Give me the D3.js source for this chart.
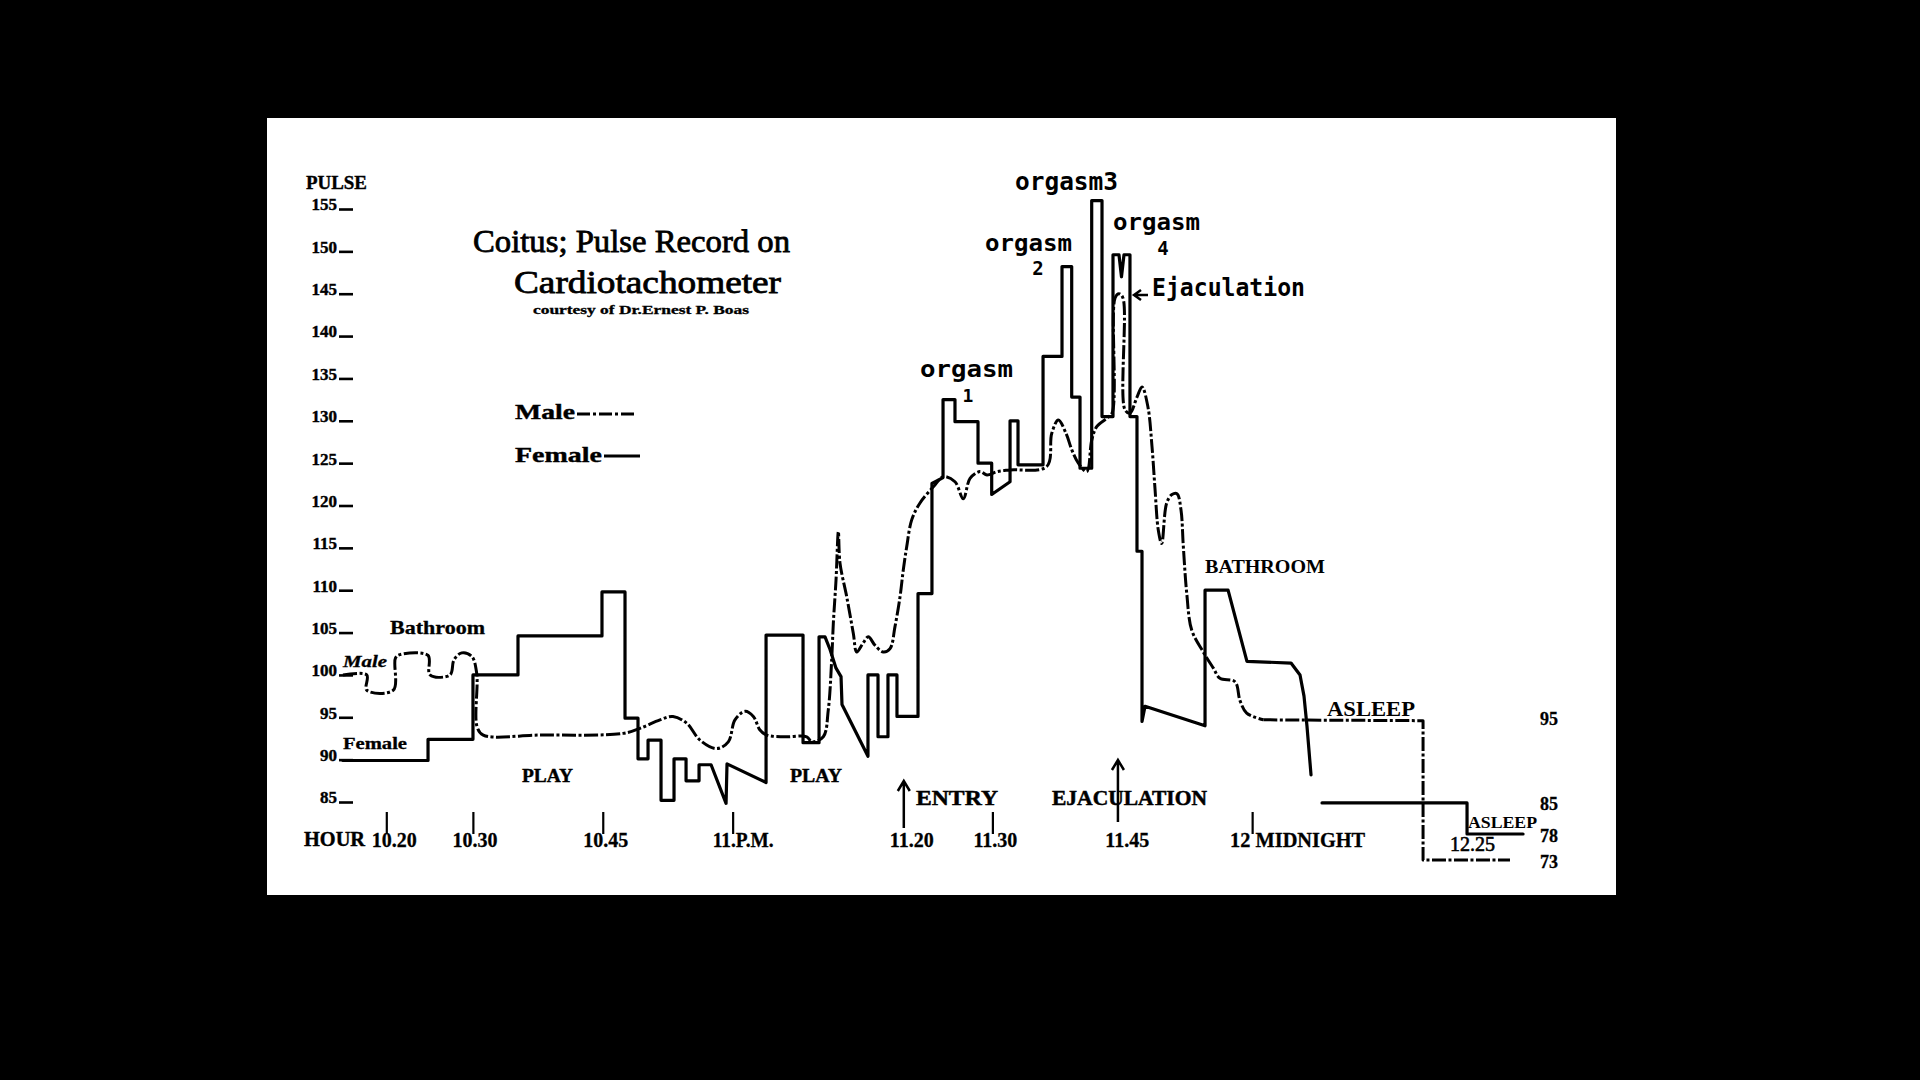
<!DOCTYPE html>
<html><head><meta charset="utf-8">
<script src="https://cdn.jsdelivr.net/npm/d3@7"></script>
<style>
html,body{margin:0;padding:0;background:#000;}
svg{display:block;}
</style></head>
<body>
<svg id="chart" width="1920" height="1080"></svg>
<script>
// ---------- DATA (minutes after 10 P.M., pulse per minute) ----------
const pulseTicks = [85,90,95,100,105,110,115,120,125,130,135,140,145,150,155];
const hourTicks = [20,30,45,60,90,120];
const hourLabelTimes = [20,30,45,60,80,90,105,120,145];
const hourLabels = ["10.20","10.30","10.45","11.P.M.","11.20","11.30","11.45","12 MIDNIGHT","12.25"];
const rightLabels = [95,85,78,73];

const maleReadings = [
 [15.0,100.0],[17.74,100.0],[17.74,98.2],[20.81,98.2],[21.06,102.0],[21.58,102.4],[24.82,102.3],
 [25.05,100.0],[27.36,100.0],[27.82,101.8],[28.71,102.6],[29.86,102.2],[30.44,100.2],[30.48,93.9],
 [31.2,92.9],[37.75,92.9],[47.34,93.1],[49.3,93.7],[51.61,94.7],[53.11,95.1],[54.7,94.3],[56.23,92.3],
 [58.16,91.3],[59.5,92.1],[60.27,94.7],[61.43,95.7],[62.39,95.1],[63.16,93.5],[63.94,92.9],[66.05,92.7],
 [68.56,92.7],[69.14,92.1],[70.47,92.7],[71.05,95.9],[71.44,101.8],[71.63,106.1],[71.94,111.2],
 [72.21,116.9],[72.4,113.2],[73.18,109.2],[73.94,104.9],[74.33,102.7],[75.09,103.8],[75.67,104.5],
 [76.44,103.5],[77.4,102.7],[78.18,103.1],[78.75,105.7],[79.33,109.2],[79.71,112.4],[80.1,115.1],
 [80.68,118.3],[81.64,120.3],[83.18,122.2],[84.33,123.4],[85.68,122.8],[86.64,120.8],[87.42,123.2],
 [88.57,124.0],[89.38,123.6],[90.53,124.0],[92.04,124.2],[96.28,124.6],[96.85,128.5],[97.62,130.1],
 [98.51,128.5],[99.2,126.5],[99.93,125.0],[100.9,124.0],[101.47,127.7],[102.05,129.3],[103.21,130.3],
 [103.82,130.9],[104.17,144.5],[104.62,145.0],[105.08,144.5],[105.31,131.3],[105.89,130.9],[106.7,132.8],
 [107.28,134.0],[107.97,131.6],[108.43,127.0],[108.78,122.0],[109.16,117.1],[109.55,115.5],[110.13,120.3],
 [110.74,121.3],[111.32,121.4],[111.78,119.5],[112.05,115.2],[112.45,109.6],[113.02,105.3],[114.36,102.7],
 [115.52,100.8],[116.29,99.6],[118.02,99.2],[118.59,97.0],[119.37,95.5],[121.29,94.7],[139.74,94.6],
 [139.74,73],[149.78,73]
];

const femaleReadings = [
 [15.0,89.9],[24.82,89.9],[24.82,92.4],[30.01,92.4],[30.01,100.0],[35.21,100.0],[35.21,104.6],
 [44.91,104.6],[44.91,109.8],[47.57,109.8],[47.57,94.9],[49.07,94.9],[49.07,90.1],[50.23,90.1],
 [50.23,92.3],[51.73,92.3],[51.73,85.2],[53.23,85.2],[53.23,90.1],[54.62,90.1],[54.62,87.5],
 [56.12,87.5],[56.12,89.4],[57.51,89.4],[59.24,84.7],[59.35,89.5],[63.86,87.3],[63.86,104.7],
 [68.13,104.7],[68.13,92.0],[69.98,92.0],[69.98,104.5],[70.67,104.5],[71.25,103.0],[71.94,100.8],
 [72.52,99.8],[72.63,96.5],[75.63,90.4],[75.63,100.0],[76.79,100.0],[76.79,92.7],[77.94,92.7],
 [77.94,100.0],[78.98,100.0],[78.98,95.1],[81.41,95.1],[81.41,109.6],[83.02,109.6],[83.02,122.6],
 [84.3,123.3],[84.3,132.5],[85.68,132.5],[85.68,129.9],[88.34,129.9],[88.34,125.0],[89.92,125.0],
 [89.92,121.3],[92.04,122.8],[92.04,130.0],[92.96,130.0],[92.96,124.8],[95.85,124.8],[95.85,137.6],
 [98.04,137.6],[98.04,148.2],[99.16,148.2],[99.16,132.8],[100.12,132.8],[100.12,124.4],[101.47,124.4],
 [101.47,156.0],[102.66,156.0],[102.66,130.5],[103.93,130.5],[103.93,149.6],[104.62,149.6],[104.91,147.0],
 [105.2,149.6],[105.89,149.6],[105.89,130.5],[106.7,130.5],[106.7,114.6],[107.28,114.6],[107.28,94.5],
 [107.63,96.3],[114.56,94.0],[114.56,110.0],[117.22,110.0],[119.4,101.6],[124.49,101.4],[125.53,100.0],
 [125.99,97.5],[126.33,94.0],[126.8,88.2],[127.4,null],[128.07,84.8],[144.82,84.8],[144.82,78],[151.29,78]
];

// ---------- DRAWING ----------
const svg = d3.select("#chart");
svg.append("rect").attr("width",1920).attr("height",1080).attr("fill","#000");
svg.append("rect").attr("x",267).attr("y",118).attr("width",1349).attr("height",777).attr("fill","#fff");

const x = d3.scaleLinear().domain([20,145]).range([386.3,1468.6]);
const y = d3.scaleLinear().domain([73,78,85,155]).range([860,834,802,209]);

const serif = "'Liberation Serif','DejaVu Serif',serif";
const mono = "'DejaVu Sans Mono','Liberation Mono',monospace";

function txt(px, py, s, o) {
  o = o || {};
  const t = svg.append("text").attr("x",px).attr("y",py).text(s)
    .attr("font-family", o.family || serif)
    .attr("font-size", o.size || 18)
    .attr("font-weight", o.weight || "bold")
    .attr("font-style", o.style || "normal")
    .attr("text-anchor", o.anchor || "start")
    .attr("fill","#000");
  if (o.len) t.attr("textLength", o.len).attr("lengthAdjust","spacingAndGlyphs");
  if (o.stroke) t.attr("stroke","#000").attr("stroke-width",o.stroke);
  return t;
}

// Y axis
const gy = svg.append("g").attr("transform","translate(353,0)")
  .call(d3.axisLeft(y).tickValues(pulseTicks).tickSize(14).tickPadding(2).tickFormat(d => String(d)));
gy.select(".domain").remove();
gy.selectAll(".tick line").attr("stroke","#000").attr("stroke-width",2.6);
gy.selectAll(".tick text").attr("dy","0.05em").attr("font-family",serif)
  .attr("font-weight","bold").attr("font-size",17).attr("fill","#000")
  .attr("stroke","#000").attr("stroke-width",0.4);
txt(306,189,"PULSE",{size:19,len:61,stroke:0.4});

// X axis ticks
const gx = svg.append("g").attr("transform","translate(0,812)")
  .call(d3.axisBottom(x).tickValues(hourTicks).tickSize(22).tickFormat(""));
gx.select(".domain").remove();
gx.selectAll(".tick line").attr("stroke","#000").attr("stroke-width",2.2);

txt(304,846,"HOUR",{size:20,len:61,stroke:0.4});
const labelDx = {"10.20":8,"10.30":2,"10.45":3,"11.20":6,"11.30":3,"11.45":5,"12.25":4};
hourLabels.forEach((lab,i) => {
  const t = hourLabelTimes[i];
  if (lab === "11.P.M.") txt(x(t)-20,847,lab,{size:20,len:61,stroke:0.3});
  else if (lab === "12 MIDNIGHT") txt(x(t)-22,847,lab,{size:20,len:135,stroke:0.3});
  else txt(x(t)+(labelDx[lab]||0),lab==="12.25"?851:847,lab,{size:20,anchor:"middle",weight:lab==="12.25"?"normal":"bold",stroke:lab==="12.25"?0.6:0.3});
});

// right side labels
rightLabels.forEach(v => txt(1549, y(v)+8, String(v), {size:18,anchor:"middle",stroke:0.3}));

// Series
const maleSmooth = d3.line().x(d => x(d[0])).y(d => y(d[1])).curve(d3.curveCatmullRom.alpha(0.5));
const maleStraight = d3.line().x(d => x(d[0])).y(d => y(d[1]));
const femaleLine = d3.line().defined(d => d[1] != null).x(d => x(d[0])).y(d => y(d[1]));
const dash = "14,2.5,3,2.5";

svg.append("path").datum(femaleReadings).attr("d",femaleLine)
  .attr("fill","none").attr("stroke","#000").attr("stroke-width",3.2)
  .attr("stroke-linejoin","round").attr("stroke-linecap","round");
svg.append("path").datum(maleReadings.filter(d => d[0] <= 121.29)).attr("d",maleSmooth)
  .attr("fill","none").attr("stroke","#000").attr("stroke-width",3)
  .attr("stroke-dasharray",dash).attr("stroke-linejoin","round");
svg.append("path").datum(maleReadings.filter(d => d[0] >= 121.29)).attr("d",maleStraight)
  .attr("fill","none").attr("stroke","#000").attr("stroke-width",3)
  .attr("stroke-dasharray",dash).attr("stroke-linejoin","round");

// Title
txt(473,252,"Coitus; Pulse Record on",{size:32,weight:"normal",len:317,stroke:0.8});
txt(514,293,"Cardiotachometer",{size:32,weight:"normal",len:267,stroke:0.8});
txt(533,314,"courtesy of Dr.Ernest P. Boas",{size:12,len:216,stroke:0.3});

// Legend
txt(515,419,"Male",{size:22,len:60,stroke:0.4});
svg.append("line").attr("x1",577).attr("x2",634).attr("y1",414).attr("y2",414)
  .attr("stroke","#000").attr("stroke-width",3).attr("stroke-dasharray","13,3,3,3");
txt(515,462,"Female",{size:22,len:87,stroke:0.4});
svg.append("line").attr("x1",604).attr("x2",640).attr("y1",456).attr("y2",456)
  .attr("stroke","#000").attr("stroke-width",3);

// Annotations
txt(390,634,"Bathroom",{size:19,len:95,stroke:0.3});
txt(343,667,"Male",{size:16,style:"italic",len:44,stroke:0.3});
txt(343,749,"Female",{size:17,len:64,stroke:0.3});
txt(522,782,"PLAY",{size:18,len:51,stroke:0.4});
txt(790,782,"PLAY",{size:18,len:52,stroke:0.4});
txt(916,805,"ENTRY",{size:22,len:82,stroke:0.5});
txt(1052,805,"EJACULATION",{size:21,len:155,stroke:0.5});
txt(1205,573,"BATHROOM",{size:19,len:120});
txt(1327,716,"ASLEEP",{size:21,len:88});
txt(1468,828,"ASLEEP",{size:16,len:69});

txt(920,377,"orgasm",{family:mono,size:23,len:93});
txt(968,402,"1",{family:mono,size:18,anchor:"middle"});
txt(985,251,"orgasm",{family:mono,size:23,len:87});
txt(1038,275,"2",{family:mono,size:19,anchor:"middle"});
txt(1015,190,"orgasm3",{family:mono,size:24,len:103});
txt(1113,230,"orgasm",{family:mono,size:23,len:87});
txt(1163,255,"4",{family:mono,size:19,anchor:"middle"});
txt(1152,296,"Ejaculation",{family:mono,size:24,len:153});

// Arrows
function arrowUp(ax, y0, y1) {
  svg.append("path").attr("d",`M${ax},${y0} L${ax},${y1} M${ax-6},${y1+10} L${ax},${y1} L${ax+6},${y1+10}`)
    .attr("fill","none").attr("stroke","#000").attr("stroke-width",2.5);
}
arrowUp(x(80)-2, 828, 781);
arrowUp(x(104.5), 822, 760);
svg.append("path").attr("d","M1148,295 L1135,295 M1141,290 L1134,295 L1141,300")
  .attr("fill","none").attr("stroke","#000").attr("stroke-width",2.5);
</script>
</body></html>
